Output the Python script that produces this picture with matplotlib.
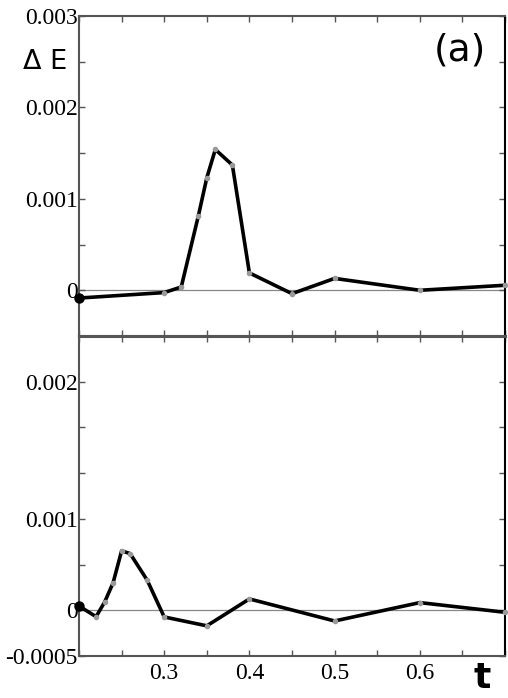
import matplotlib
matplotlib.use("Agg")
import matplotlib.pyplot as plt
from matplotlib.ticker import MultipleLocator

# Top panel data
t_top = [0.20, 0.30, 0.32, 0.34, 0.35, 0.36, 0.38, 0.40, 0.45, 0.50, 0.60, 0.70]
dE_top = [-0.000085, -0.000025, 0.000036, 0.00081, 0.00123, 0.00154, 0.00137,
          0.00019, -0.000037, 0.00013, 0.0, 0.000055]

# Bottom panel data
t_bot = [0.20, 0.22, 0.23, 0.24, 0.25, 0.26, 0.28, 0.30, 0.35, 0.40, 0.50, 0.60, 0.70]
dE_bot = [0.000047, -0.00007, 0.000088, 0.0003, 0.00065, 0.00062, 0.00033,
          -0.000073, -0.00017, 0.000124, -0.000117, 0.000084, -0.000022]

top_ticks = [0.0, 0.001, 0.002, 0.003]
top_labels = ["0", "0.001", "0.002", "0.003"]
bot_ticks = [-0.0005, 0.0, 0.001, 0.0025]
bot_labels = ["-0.0005", "0", "0.001", "0.002"]
x_ticks = [0.3, 0.4, 0.5, 0.6]
x_labels = ["0.3", "0.4", "0.5", "0.6"]

plt.rcParams["font.family"] = ["Liberation Serif", "DejaVu Serif"]

W, H = 508, 698
fig = plt.figure(figsize=(W / 100, H / 100), dpi=100)
L, R = 79 / W, 505 / W
ax1 = fig.add_axes([L, 1 - 336 / H, R - L, (336 - 16) / H])
ax2 = fig.add_axes([L, 1 - 656 / H, R - L, (656 - 336) / H])

spine_col = "#555555"

for ax, t, d in ((ax1, t_top, dE_top), (ax2, t_bot, dE_bot)):
    ax.axhline(0, color="#888888", lw=0.9, zorder=1)
    ax.plot(t, d, color="black", lw=2.6, zorder=3, clip_on=False,
            marker="o", ms=3, mfc="#999999", mec="#999999")
    ax.plot(t[0], d[0], "o", color="black", ms=6.5, zorder=4, clip_on=False)
    ax.set_xlim(0.2, 0.7)
    ax.set_ylim(-0.0005, 0.003)
    ax.tick_params(which="both", direction="in", top=True, right=True,
                   length=4, width=1, color=spine_col, labelsize=17, pad=1)
    ax.set_xticks(x_ticks)
    ax.xaxis.set_minor_locator(MultipleLocator(0.05))
    ax.yaxis.set_minor_locator(MultipleLocator(0.0005))
    for s in ax.spines.values():
        s.set_color(spine_col)
        s.set_linewidth(1.5)
    ax.spines["right"].set_color("black")

ax1.set_yticks(top_ticks)
ax1.set_yticklabels(top_labels)
ax1.set_xticklabels([])

ax2.set_yticks(bot_ticks)
ax2.set_yticklabels(bot_labels)
ax2.set_xticklabels(x_labels)
ax2.tick_params(axis="x", pad=5)
ax1.spines["bottom"].set_linewidth(2.2)
ax2.spines["top"].set_linewidth(2.2)

for ax in (ax1, ax2):
    for lbl in ax.get_xticklabels() + ax.get_yticklabels():
        lbl.set_fontfamily("Liberation Serif")
        lbl.set_fontsize(17)

fig.text(45 / W, 1 - 62 / H, "Δ E", fontsize=19.5, ha="center", va="center",
         family="DejaVu Sans")
fig.text(460 / W, 1 - 51 / H, "(a)", fontsize=27, ha="center", va="center",
         family="DejaVu Sans")
fig.text(482 / W, 1 - 678 / H, "t", fontsize=26, ha="center", va="center",
         family="DejaVu Sans", fontweight="bold")

fig.savefig("out.png", dpi=100)
